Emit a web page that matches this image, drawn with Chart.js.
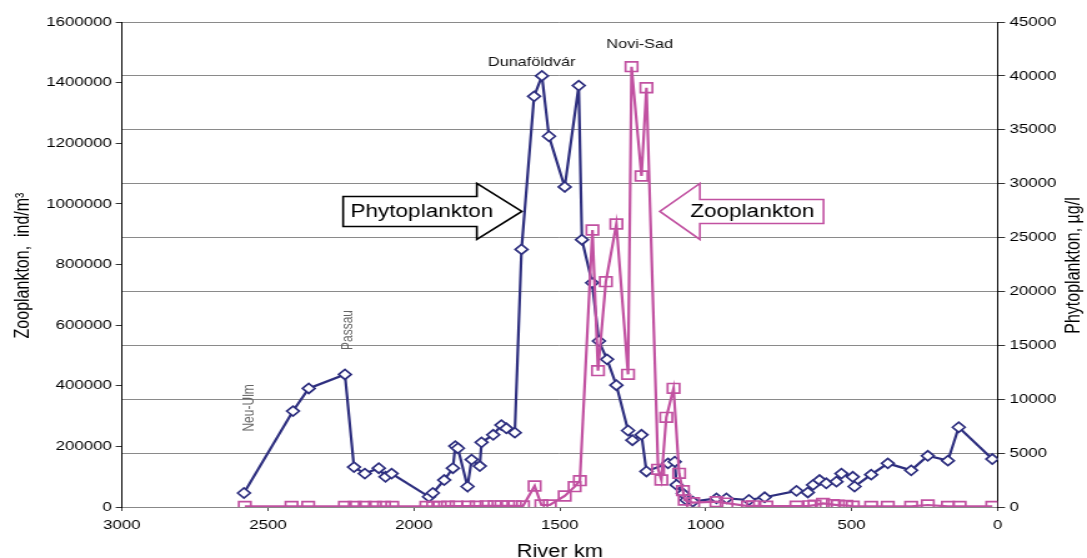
<!DOCTYPE html>
<html>
<head>
<meta charset="utf-8">
<title>Danube plankton</title>
<script src="https://cdn.jsdelivr.net/npm/chart.js@4.4.0/dist/chart.umd.min.js"></script>
<style>
  html, body { margin: 0; padding: 0; background: #fff; }
  canvas { display: block; }
</style>
</head>
<body>
<!-- the source figure is stretched sideways, so the canvas is drawn narrow and widened by css -->
<canvas id="chart" width="870" height="558" style="width:1087px;height:558px"></canvas>
<script>
// river km of each sampling site and the values
const phytoKm = [2582, 2414, 2360, 2236, 2205, 2168, 2120, 2097, 2076, 1948, 1935, 1896, 1866, 1858, 1849, 1816, 1802, 1774, 1768, 1728,
                 1700, 1683, 1654, 1631, 1588, 1561, 1537, 1483, 1435, 1424, 1389, 1366, 1338, 1306, 1266, 1251, 1220, 1203, 1129, 1106,
                 1100, 1078, 1066, 1044, 963, 929, 852, 798, 689, 650, 632, 610, 587, 552, 535, 496, 490, 433, 376, 296,
                 239, 170, 133, 18];
const phytoVal = [1300, 8900, 11000, 12300, 3700, 3100, 3600, 2800, 3100, 950, 1300, 2500, 3600, 5650, 5450, 1900, 4400, 3800, 6000, 6700,
                  7600, 7300, 6900, 23900, 38100, 40000, 34400, 29700, 39100, 24800, 20800, 15400, 13700, 11300, 7100, 6200, 6700, 3300, 4050, 4200,
                  2050, 1250, 650, 500, 800, 800, 650, 900, 1500, 1350, 2050, 2500, 2200, 2350, 3100, 2800, 1900, 3000, 4050, 3400,
                  4750, 4300, 7400, 4450];

const zooKm = [2579, 2419, 2362, 2236, 2202, 2168, 2133, 2102, 2074, 1957, 1934, 1911, 1883, 1854, 1814, 1785, 1751, 1723, 1700, 1677,
               1654, 1626, 1586, 1563, 1534, 1483, 1449, 1431, 1388, 1369, 1342, 1306, 1266, 1254, 1220, 1203, 1163, 1152, 1135, 1110,
               1091, 1078, 1072, 1043, 963, 929, 855, 838, 792, 689, 644, 627, 598, 564, 547, 518, 496, 433, 376, 296,
               239, 170, 130, 18];
const zooVal = [2000, 2000, 2000, 2000, 2000, 2000, 2000, 2000, 2000, 2000, 2000, 2000, 3000, 3000, 3000, 3000, 4000, 4000, 4000, 4000,
                4000, 3300, 69300, 6600, 6600, 36300, 67000, 86800, 913800, 449700, 743300, 933600, 437700, 1452500, 1092000, 1383000, 124400, 89100, 295900, 391600,
                111200, 53800, 23100, 14200, 17500, 13000, 3000, 4000, 3000, 3000, 4000, 6000, 12000, 8000, 6000, 5000, 3000, 2000, 2000, 2000,
                6600, 2000, 2000, 2000];

const kmTicks = [0, 500, 1000, 1500, 2000, 2500, 3000];
const zooTicks = [0, 200000, 400000, 600000, 800000, 1000000, 1200000, 1400000, 1600000];
const phytoTicks = [0, 5000, 10000, 15000, 20000, 25000, 30000, 35000, 40000, 45000];

const places = [
    { text: 'Neu-Ulm', km: 2562, zoo: 327000, vertical: true },
    { text: 'Passau', km: 2223, zoo: 584000, vertical: true },
    { text: 'Dunaföldvár', km: 1596, zoo: 1468000, vertical: false },
    { text: 'Novi-Sad', km: 1226, zoo: 1527000, vertical: false }
];

const BLUE = '#2e2f7f';
const PINK = '#c151a1';
const FONT = "'Liberation Sans', Arial, sans-serif";

function arrow(ctx, tx, ty, dir, headLen, bodyLen, headH, bodyH, stroke) {
    const bx = tx - dir * headLen;
    const ex = bx - dir * bodyLen;
    ctx.beginPath();
    ctx.moveTo(tx, ty);
    ctx.lineTo(bx, ty - headH);
    ctx.lineTo(bx, ty - bodyH);
    ctx.lineTo(ex, ty - bodyH);
    ctx.lineTo(ex, ty + bodyH);
    ctx.lineTo(bx, ty + bodyH);
    ctx.lineTo(bx, ty + headH);
    ctx.closePath();
    ctx.fillStyle = '#fff';
    ctx.fill();
    ctx.lineWidth = 1.6;
    ctx.strokeStyle = stroke;
    ctx.stroke();
}

const overlay = {
    id: 'overlay',
    beforeDatasetsDraw(chart) {
        const ctx = chart.ctx;
        const x = chart.scales.x, y = chart.scales.y;
        ctx.save();
        ctx.font = `18px ${FONT}`;
        ctx.textAlign = 'center';
        ctx.textBaseline = 'middle';

        let tx = x.getPixelForValue(1630), ty = y.getPixelForValue(975000);
        arrow(ctx, tx, ty, 1, 36, 107, 28, 15, '#000');
        ctx.fillStyle = '#000';
        ctx.fillText('Phytoplankton', tx - 80, ty + 1);

        tx = x.getPixelForValue(1157);
        arrow(ctx, tx, ty, -1, 32, 99, 28, 12, PINK);
        ctx.fillStyle = '#000';
        ctx.fillText('Zooplankton', tx + 74, ty + 1);
        ctx.restore();
    },
    afterDraw(chart) {
        const ctx = chart.ctx;
        const x = chart.scales.x, y = chart.scales.y;
        const area = chart.chartArea;
        const midY = (area.top + area.bottom) / 2;
        ctx.save();
        ctx.textAlign = 'center';
        ctx.textBaseline = 'middle';

        places.forEach(p => {
            const px = x.getPixelForValue(p.km), py = y.getPixelForValue(p.zoo);
            ctx.save();
            ctx.translate(px, py);
            if (p.vertical) {
                ctx.rotate(-Math.PI / 2);
                ctx.font = `12px ${FONT}`;
                ctx.fillStyle = '#666';
            } else {
                ctx.font = `13px ${FONT}`;
                ctx.fillStyle = '#111';
            }
            ctx.fillText(p.text, 0, 0);
            ctx.restore();
        });

        // axis titles
        ctx.font = `16px ${FONT}`;
        ctx.fillStyle = '#000';
        ctx.save();
        ctx.translate(19, midY + 1);
        ctx.rotate(-Math.PI / 2);
        ctx.fillText('Zooplankton,  ind/m³', 0, 0);
        ctx.restore();

        ctx.save();
        ctx.translate(860, midY + 1);
        ctx.rotate(-Math.PI / 2);
        ctx.fillText('Phytoplankton, µg/l', 0, 0);
        ctx.restore();

        ctx.font = `17.5px ${FONT}`;
        ctx.textBaseline = 'alphabetic';
        ctx.fillText('River km', (area.left + area.right) / 2, 557);
        ctx.restore();
    }
};

const tickFont = { family: FONT, size: 13.5 };
const plain = v => String(v);

new Chart(document.getElementById('chart'), {
    type: 'line',
    data: {
        datasets: [{
            label: 'Zooplankton',
            data: zooKm.map((km, i) => ({ x: km, y: zooVal[i] })),
            yAxisID: 'y',
            borderColor: PINK,
            borderWidth: 2.2,
            pointStyle: 'rect',
            pointRadius: 6.8,
            pointBorderWidth: 1.7,
            pointBorderColor: PINK,
            pointBackgroundColor: 'rgba(255,255,255,0)',
            tension: 0
        }, {
            label: 'Phytoplankton',
            data: phytoKm.map((km, i) => ({ x: km, y: phytoVal[i] })),
            yAxisID: 'y1',
            borderColor: BLUE,
            borderWidth: 2.2,
            pointStyle: 'rectRot',
            pointRadius: 5,
            pointBorderWidth: 1.7,
            pointBorderColor: BLUE,
            pointBackgroundColor: '#fff',
            tension: 0
        }]
    },
    options: {
        responsive: false,
        devicePixelRatio: 1,
        animation: false,
        layout: { padding: { top: 22, left: 0, right: 0, bottom: 0 } },
        plugins: {
            legend: { display: false },
            tooltip: { enabled: false }
        },
        scales: {
            x: {
                type: 'linear',
                reverse: true,
                min: 0,
                max: 3000,
                afterBuildTicks: s => { s.ticks = kmTicks.map(v => ({ value: v })); },
                afterFit: s => { s.height = 51; },
                ticks: { font: tickFont, color: '#000', padding: 6, maxRotation: 0, callback: plain },
                grid: { drawOnChartArea: false, tickLength: 4, color: '#444' },
                border: { display: true, color: '#888', width: 1 }
            },
            y: {
                position: 'left',
                min: 0,
                max: 1600000,
                afterBuildTicks: s => { s.ticks = zooTicks.map(v => ({ value: v })); },
                afterFit: s => { s.width = 97.6; },
                ticks: { font: tickFont, color: '#000', padding: 3, callback: plain },
                grid: { drawOnChartArea: false, tickLength: 5, color: '#333' },
                border: { display: true, color: '#000', width: 1 }
            },
            y1: {
                position: 'right',
                min: 0,
                max: 45000,
                afterBuildTicks: s => { s.ticks = phytoTicks.map(v => ({ value: v })); },
                afterFit: s => { s.width = 71.6; },
                ticks: { font: tickFont, color: '#000', padding: 3.5, callback: plain },
                grid: { color: '#8a8a8a', tickColor: '#333', tickLength: 6 },
                border: { display: true, color: '#000', width: 1 }
            }
        }
    },
    plugins: [overlay]
});
</script>
</body>
</html>
